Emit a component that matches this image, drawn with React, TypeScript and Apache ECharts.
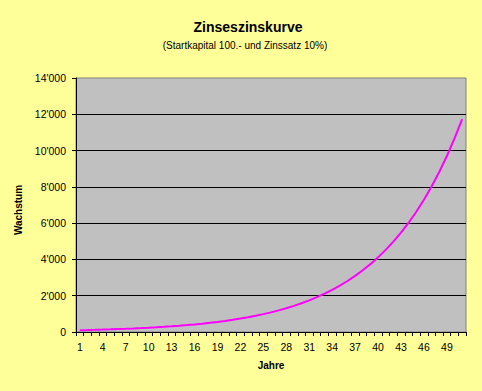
import React, { useEffect, useRef } from "react";
import * as echarts from "echarts";

const years: string[] = [
  "1","2","3","4","5","6","7","8","9","10","11","12","13","14","15","16","17",
  "18","19","20","21","22","23","24","25","26","27","28","29","30","31","32","33",
  "34","35","36","37","38","39","40","41","42","43","44","45","46","47","48","49","50","51",
];

const kapital: number[] = [
  100, 110, 121, 133, 146, 161, 177, 195, 214, 236,
  259, 285, 314, 345, 380, 418, 459, 505, 556, 612,
  673, 740, 814, 895, 985, 1083, 1192, 1311, 1442, 1586,
  1745, 1919, 2111, 2323, 2555, 2810, 3091, 3400, 3740, 4114,
  4526, 4978, 5476, 6024, 6626, 7289, 8018, 8820, 9702, 10672,
  11739,
];

const titleText = "Zinseszinskurve";
const subtitleText = "(Startkapital 100.- und Zinssatz 10%)";
const yName = "Wachstum";
const xName = "Jahre";

const FONT = "'Liberation Sans', Arial, sans-serif";

function fmt(v: number): string {
  const s = String(Math.round(v));
  return s.replace(/\B(?=(\d{3})+(?!\d))/g, "'");
}

export default function App() {
  const ref = useRef<HTMLDivElement>(null);
  useEffect(() => {
    if (!ref.current) return;
    const chart = echarts.init(ref.current, undefined, { renderer: "svg" });
    chart.setOption({
      animation: false,
      backgroundColor: "#FFFF99",
      title: [
        {
          text: titleText,
          left: 243,
          top: 15,
          textAlign: "center",
          textStyle: { fontFamily: FONT, fontSize: 14, fontWeight: "bold", color: "#000" },
        },
        {
          text: subtitleText,
          left: 240,
          top: 35,
          textAlign: "center",
          textStyle: { fontFamily: FONT, fontSize: 10, fontWeight: "normal", color: "#000" },
        },
      ],
      grid: {
        left: 76,
        right: 16,
        top: 78,
        bottom: 59,
        show: true,
        backgroundColor: "#C0C0C0",
        borderColor: "#808080",
        borderWidth: 1,
      },
      xAxis: {
        type: "category",
        data: years,
        boundaryGap: true,
        name: xName,
        nameLocation: "middle",
        nameGap: 28,
        nameTextStyle: { fontFamily: FONT, fontSize: 10, fontWeight: "bold", color: "#000" },
        axisLine: { lineStyle: { color: "#000", width: 1 } },
        axisTick: { show: true, interval: 0, length: 4, lineStyle: { color: "#000" } },
        axisLabel: {
          interval: 2,
          margin: 9,
          fontFamily: FONT,
          fontSize: 10.5,
          color: "#000",
        },
        splitLine: { show: false },
      },
      yAxis: {
        type: "value",
        min: 0,
        max: 14000,
        interval: 2000,
        name: yName,
        nameLocation: "middle",
        nameGap: 46,
        nameRotate: 90,
        nameTextStyle: { fontFamily: FONT, fontSize: 10, fontWeight: "bold", color: "#000", padding: [0, 10, 0, 0] },
        axisLine: { show: true, lineStyle: { color: "#000", width: 1 } },
        axisTick: { show: true, length: 4, lineStyle: { color: "#000" } },
        axisLabel: {
          margin: 10,
          fontFamily: FONT,
          fontSize: 10.5,
          color: "#000",
          formatter: (v: number) => fmt(v),
        },
        splitLine: { show: true, showMaxLine: false, lineStyle: { color: "#000", width: 1 } },
      },
      series: [
        {
          type: "line",
          data: kapital,
          symbol: "none",
          smooth: false,
          lineStyle: { color: "#FF00FF", width: 2 },
        },
      ],
    });
    return () => chart.dispose();
  }, []);
  return (
    <div
      ref={ref}
      style={{ position: "fixed", left: 0, top: 0, width: 482, height: 391 }}
    />
  );
}
